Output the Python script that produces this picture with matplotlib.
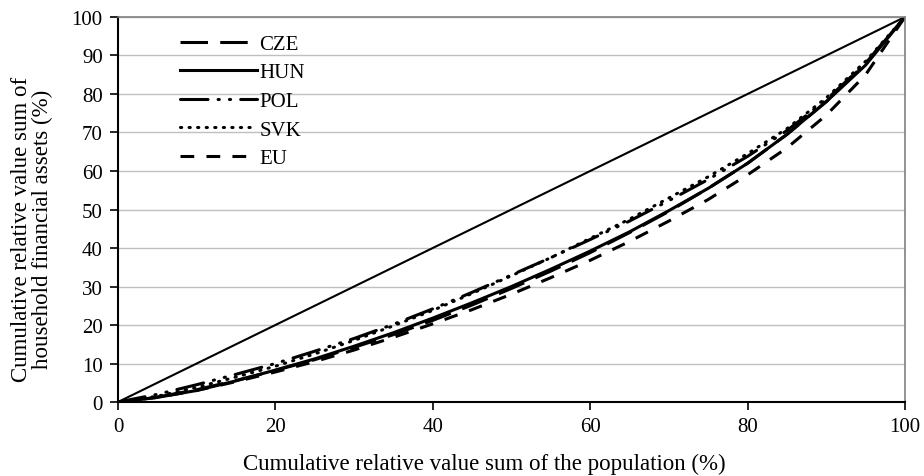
import matplotlib
matplotlib.use("Agg")
import matplotlib.pyplot as plt

plt.rcParams['font.family'] = ['Liberation Serif', 'DejaVu Serif']

x = [0, 5, 10, 15, 20, 25, 30, 35, 40, 45, 50, 55, 60, 65, 70, 75, 80, 85, 90, 95, 100]
cze = [0, 1.3, 3.2, 5.6, 8.2, 11, 14.2, 17.5, 21.2, 25.2, 29.5, 34, 38.8, 44, 49.5, 55.5, 62, 69.5, 78, 88, 100]
hun = [0, 1.2, 3, 5.5, 8.3, 11.2, 14.5, 18, 21.8, 25.8, 30, 34.5, 39.2, 44.2, 49.7, 55.5, 62, 69.5, 78, 87.5, 100]
pol = [0, 2, 4.5, 7.2, 10, 13.2, 16.5, 20.2, 24.2, 28.5, 33, 37.5, 42.2, 47, 52.3, 57.8, 63.8, 70.5, 78.5, 88, 100]
svk = [0, 1.5, 3.8, 6.5, 9.3, 12.5, 16, 19.8, 23.8, 28.2, 32.8, 37.5, 42.5, 47.5, 53, 58.5, 64.5, 71, 79, 88.5, 100]
eu = [0, 1.2, 3, 5.3, 7.8, 10.5, 13.5, 16.8, 20.3, 24, 28, 32.3, 36.8, 41.7, 47, 52.6, 59, 66, 74.5, 85, 100]
equality = [0, 100]

fig = plt.figure(figsize=(9.24, 4.77), dpi=100)
ax = fig.add_axes([0.1277, 0.1551, 0.8517, 0.8072])

ax.set_xlim(0, 100)
ax.set_ylim(0, 100)
ax.set_yticks(range(0, 101, 10))
ax.set_xticks(range(0, 101, 20))
ax.grid(axis='y', color='#bfbfbf', linewidth=1.0)
ax.set_axisbelow(True)

lw = 2.2
ax.plot(equality, equality, color='black', linewidth=1.5)
ax.plot(x, cze, color='black', linewidth=lw, dashes=(9, 4), label='CZE')
ax.plot(x, hun, color='black', linewidth=lw, label='HUN')
ax.plot(x, pol, color='black', linewidth=lw, dashes=(9, 3.3, 0.4, 3.3, 0.4, 3.3), dash_capstyle='round', label='POL')
ax.plot(x, svk, color='black', linewidth=lw, dashes=(0.4, 2.4), dash_capstyle='round', label='SVK')
ax.plot(x, eu, color='black', linewidth=lw, dashes=(4.5, 4), label='EU')

for s in ['top', 'right']:
    ax.spines[s].set_color('#808080')
    ax.spines[s].set_linewidth(1.2)
for s in ['left', 'bottom']:
    ax.spines[s].set_color('black')
    ax.spines[s].set_linewidth(1.5)

ax.tick_params(axis='both', labelsize=15, colors='black', width=1.2, length=6, pad=5)

ax.set_xlabel('Cumulative relative value sum of the population (%)', fontsize=16.5)
ax.set_ylabel('Cumulative relative value sum of\nhousehold financial assets (%)', fontsize=16.5, linespacing=1.0)
ax.xaxis.set_label_coords(0.466, -0.133)
ax.yaxis.set_label_coords(-0.083, 0.45)

leg = ax.legend(loc='upper left', bbox_to_anchor=(0.079, 0.955), frameon=False, fontsize=15,
                handlelength=3.7, handletextpad=0.1, labelspacing=0.43, borderaxespad=0.0,
                borderpad=0.0)

fig.savefig('out.png', dpi=100)
